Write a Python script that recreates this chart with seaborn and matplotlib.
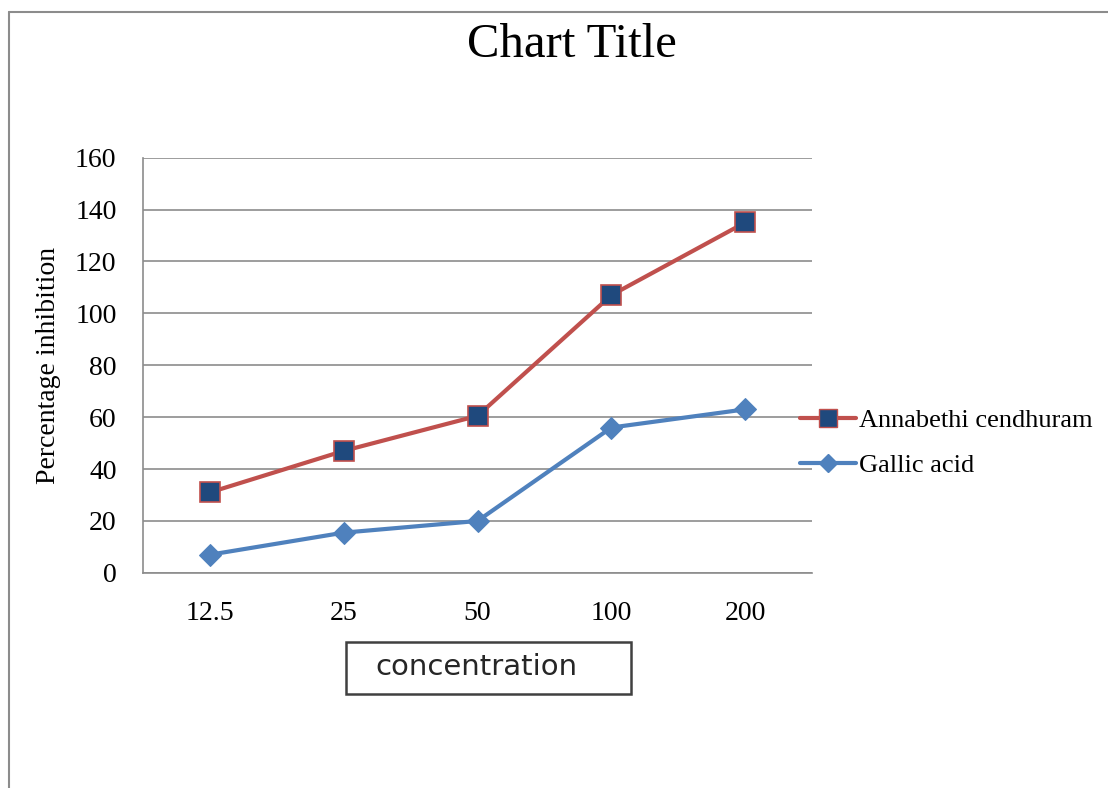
import pandas as pd
import matplotlib
matplotlib.use("Agg")
import matplotlib.pyplot as plt
import seaborn as sns
from matplotlib.lines import Line2D
from matplotlib.patches import Rectangle

concentration = ["12.5", "25", "50", "100", "200"]
annabethi = [31, 47, 60.5, 107, 135]
gallic = [7, 15.5, 20, 56, 63]

df = pd.DataFrame({"concentration": concentration,
                   "Annabethi cendhuram": annabethi,
                   "Gallic acid": gallic})
df["pos"] = range(len(df))

sns.set_style("white")
plt.rcParams["font.family"] = ["Liberation Serif", "DejaVu Serif"]
plt.rcParams["text.color"] = "black"

fig = plt.figure(figsize=(11.08, 7.88), dpi=100)
ax = fig.add_axes([0.129, 0.273, 0.604, 0.527])

red = "#C0504D"
blue = "#4F81BD"

sns.lineplot(data=df, x="pos", y="Annabethi cendhuram", ax=ax, color=red,
             linewidth=3, marker="s", markersize=14, markerfacecolor="#1F497D",
             markeredgecolor=red, markeredgewidth=1.2, zorder=3)
sns.lineplot(data=df, x="pos", y="Gallic acid", ax=ax, color=blue,
             linewidth=3, marker="D", markersize=11, markerfacecolor=blue,
             markeredgecolor=blue, zorder=3)

ax.set_xlim(-0.5, len(concentration) - 0.5)
ax.set_ylim(0, 160)
ax.set_yticks(range(0, 161, 20))
ax.set_xticks(range(len(concentration)))
ax.set_xticklabels(concentration)
ax.tick_params(axis="both", labelsize=20, length=0, colors="black")
ax.tick_params(axis="x", pad=20)
ax.tick_params(axis="y", pad=19)
ax.yaxis.grid(True, color="#8c8c8c", linewidth=1.2)
ax.xaxis.grid(False)
for s in ["top", "right"]:
    ax.spines[s].set_visible(False)
ax.spines["left"].set_color("#8c8c8c")
ax.spines["bottom"].set_color("#8c8c8c")
ax.spines["left"].set_linewidth(1.2)
ax.spines["bottom"].set_linewidth(1.2)

ax.set_xlabel("")
ax.set_ylabel("Percentage inhibition", fontsize=20, labelpad=10, color="black")

fig.text(0.516, 0.943, "Chart Title", ha="center", va="center", fontsize=35,
         color="black")

# boxed axis title
fig.add_artist(Rectangle((346 / 1108, 1 - 694 / 788), 285 / 1108, 52 / 788,
                         transform=fig.transFigure, facecolor="white",
                         edgecolor="#404040", linewidth=1.8))
fig.text(476 / 1108, 1 - 667 / 788, "concentration", ha="center", va="center",
         fontsize=21, family="DejaVu Sans", color="#262626")

handles = [
    Line2D([], [], color=red, linewidth=3, marker="s", markersize=13,
           markerfacecolor="#1F497D", markeredgecolor=red),
    Line2D([], [], color=blue, linewidth=3, marker="D", markersize=9,
           markerfacecolor=blue, markeredgecolor=blue),
]
fig.legend(handles, ["Annabethi cendhuram", "Gallic acid"],
           loc="center left", bbox_to_anchor=(0.701, 0.438), frameon=False,
           fontsize=19, handlelength=2.1, handletextpad=0.1, labelspacing=0.8)

# outer frame (top and left edges)
fig.add_artist(Line2D([0.008, 1.0], [0.985, 0.985], color="#8c8c8c", linewidth=1.5,
                      transform=fig.transFigure))
fig.add_artist(Line2D([0.008, 0.008], [0.0, 0.985], color="#8c8c8c", linewidth=1.5,
                      transform=fig.transFigure))

fig.savefig("out.png", dpi=100)
